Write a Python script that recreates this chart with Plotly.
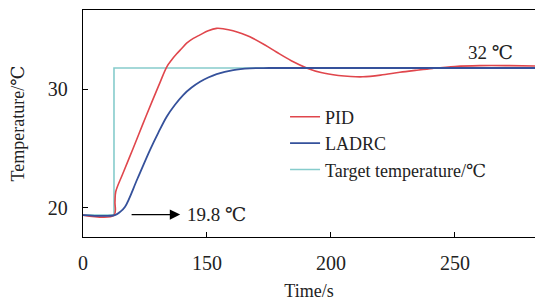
import plotly.graph_objects as go

# ---- data ----
pid_t = [100.0, 112.5, 112.9, 113.2, 116.0, 120.2, 124.0, 128.0, 131.0, 133.8, 135.8,
         137.8, 139.8, 141.8, 144.5, 147.2, 150.5, 153.9, 157.0, 160.5, 164.0, 167.3,
         173.4, 178.0, 184.0, 190.7, 196.0, 203.0, 208.0, 212.9, 220.0, 227.8, 234.0,
         241.1, 250.0, 260.0, 272.0, 284.0]
pid_v = [19.38, 19.38, 20.5, 21.35, 22.85, 25.0, 27.0, 29.05, 30.55, 31.9, 32.5,
         33.0, 33.45, 33.9, 34.3, 34.6, 34.95, 35.15, 35.1, 34.95, 34.72, 34.44,
         33.74, 33.15, 32.42, 31.77, 31.42, 31.17, 31.08, 31.06, 31.2, 31.44, 31.6,
         31.77, 31.93, 32.0, 32.0, 31.97]

ladrc_t = [100.0, 112.9, 114.9, 116.9, 122.0, 127.0, 130.4, 133.75, 137.1, 140.4,
           143.8, 147.2, 150.5, 153.9, 160.6, 167.3, 175.0, 200.0, 284.0]
ladrc_v = [19.38, 19.38, 19.64, 20.06, 22.47, 24.87, 26.35, 27.69, 28.7, 29.52,
           30.15, 30.64, 31.0, 31.29, 31.63, 31.77, 31.8, 31.8, 31.8]

target_t = [100.0, 112.5, 112.5, 284.0]
target_v = [19.38, 19.38, 31.8, 31.8]

x_tickvals = [100, 150, 200, 250]
x_ticktext = ["0", "150", "200", "250"]
y_tickvals = [20, 30]

FONT = "Liberation Serif, DejaVu Serif, serif"

fig = go.Figure()
fig.add_trace(go.Scatter(x=target_t, y=target_v, mode="lines", name="Target temperature/℃",
                         line=dict(color="#86cccc", width=1.6)))
fig.add_trace(go.Scatter(x=pid_t, y=pid_v, mode="lines", name="PID",
                         line=dict(color="#e0464c", width=1.6, shape="spline", smoothing=1.0)))
fig.add_trace(go.Scatter(x=ladrc_t, y=ladrc_v, mode="lines", name="LADRC",
                         line=dict(color="#35519b", width=1.8, shape="spline", smoothing=1.0)))

fig.update_layout(
    width=535, height=301,
    margin=dict(l=83, r=0, t=10, b=64),
    paper_bgcolor="white", plot_bgcolor="white",
    font=dict(family=FONT, color="#222222", size=18),
    showlegend=True,
    legend=dict(x=0.447, y=0.61, xanchor="left", yanchor="top", bgcolor="rgba(0,0,0,0)",
                font=dict(size=18, family=FONT), traceorder="normal",
                itemwidth=30, tracegroupgap=0),
    xaxis=dict(range=[100, 282.3], tickvals=x_tickvals, ticktext=x_ticktext,
               ticks="inside", ticklen=5, tickcolor="black", tickwidth=1,
               showline=True, linecolor="black", linewidth=1.3, mirror=True,
               showgrid=False, zeroline=False, tickfont=dict(size=20, family=FONT),
               ticklabelstandoff=8, automargin=False,
               title=dict(text="Time/s", font=dict(size=18, family=FONT), standoff=13)),
    yaxis=dict(range=[17.53, 36.7], tickvals=y_tickvals,
               ticks="inside", ticklen=5, tickcolor="black", tickwidth=1,
               showline=True, linecolor="black", linewidth=1.3, mirror=False,
               showgrid=False, zeroline=False, tickfont=dict(size=20, family=FONT),
               ticklabelstandoff=10, automargin=False,
               title=dict(text="Temperature/℃", font=dict(size=18, family=FONT), standoff=18)),
    annotations=[
        dict(x=264.5, y=33.07, xref="x", yref="y", text="32 ℃", showarrow=False,
             font=dict(size=19, family=FONT)),
        dict(x=139.2, y=19.42, ax=119, ay=19.42, xref="x", yref="y", axref="x", ayref="y",
             text="", showarrow=True, arrowhead=2, arrowsize=1.6, arrowwidth=1.3,
             arrowcolor="black"),
        dict(x=141.3, y=19.42, xref="x", yref="y", text="19.8 ℃", showarrow=False,
             xanchor="left", font=dict(size=19, family=FONT)),
    ],
)

# legend order: PID, LADRC, Target
fig.data[0].legendrank = 3
fig.data[1].legendrank = 1
fig.data[2].legendrank = 2

fig.write_html("out.html", config={"displayModeBar": False},
               post_script="document.body.style.margin='0';document.body.style.overflow='hidden';")
